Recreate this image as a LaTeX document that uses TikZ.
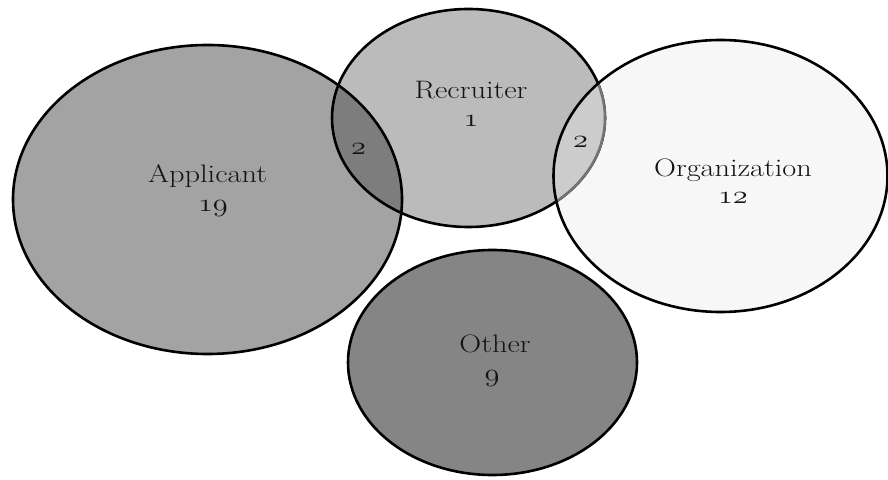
\RequirePackage{fix-cm}
\documentclass[tikz,border=0pt]{standalone}
\usepackage{graphicx}
\newcommand{\vnum}[1]{\scalebox{1.2}[1]{$\mathnormal{#1}$}}
\newcommand{\vword}[1]{\scalebox{1.2}[1]{#1}}
\begin{document}
\begin{tikzpicture}[x=1pt,y=1pt,
  ring/.style={draw=black,line width=2.6pt},
  lbl/.style={anchor=base,inner sep=0pt,text=black!92,font=\fontsize{25.3}{30}\selectfont},
]
\definecolor{cA}{HTML}{A3A3A3}
\definecolor{cR}{HTML}{BBBBBB}
\definecolor{cO}{HTML}{F7F7F7}
\definecolor{cT}{HTML}{858585}
\definecolor{cAR}{HTML}{7D7D7D}
\definecolor{cRO}{HTML}{CCCCCC}
\useasboundingbox (0,0) rectangle (888,479);
\fill[white] (0,0) rectangle (888,479);
% fills
\fill[cA] (207.5,279.5) ellipse [x radius=194.5, y radius=154.5];
\fill[cR] (468.5,361) ellipse [x radius=136.5, y radius=109];
\fill[cO] (720.5,303) ellipse [x radius=167, y radius=136];
\fill[cT] (492.5,116.5) ellipse [x radius=144.5, y radius=112.5];
\begin{scope}
  \clip (207.5,279.5) ellipse [x radius=194.5, y radius=154.5];
  \fill[cAR] (468.5,361) ellipse [x radius=136.5, y radius=109];
\end{scope}
\begin{scope}
  \clip (720.5,303) ellipse [x radius=167, y radius=136];
  \fill[cRO] (468.5,361) ellipse [x radius=136.5, y radius=109];
\end{scope}
% outlines
\draw[ring] (207.5,279.5) ellipse [x radius=194.5, y radius=154.5];
\draw[ring] (468.5,361) ellipse [x radius=136.5, y radius=109];
\begin{scope}
  \clip (720.5,303) ellipse [x radius=167, y radius=136];
  \fill[cRO] (468.5,361) ellipse [x radius=136.5, y radius=109];
  \draw[ring,draw=black!55] (468.5,361) ellipse [x radius=136.5, y radius=109];
\end{scope}
\draw[ring] (720.5,303) ellipse [x radius=167, y radius=136];
\draw[ring] (492.5,116.5) ellipse [x radius=144.5, y radius=112.5];
% labels
\node[lbl] (rl) at (471,380) {\vword{Recruiter}};
\node[lbl] (rn) at (471,352) {\vnum{1}};
\node[lbl] (al) at (207.5,296) {\vword{Applicant}};
\node[lbl] (an) at (213,267) {\vnum{19}};
\node[lbl] (ol) at (733,302) {\vword{Organization}};
\node[lbl] (on) at (733,275) {\vnum{12}};
\node[lbl] (tl) at (495,126) {\vword{Other}};
\node[lbl] (tn) at (492,97) {\vnum{9}};
\node[lbl] (ar) at (358.5,324) {\vnum{2}};
\node[lbl] (ro) at (580.5,331) {\vnum{2}};
\end{tikzpicture}
\end{document}
